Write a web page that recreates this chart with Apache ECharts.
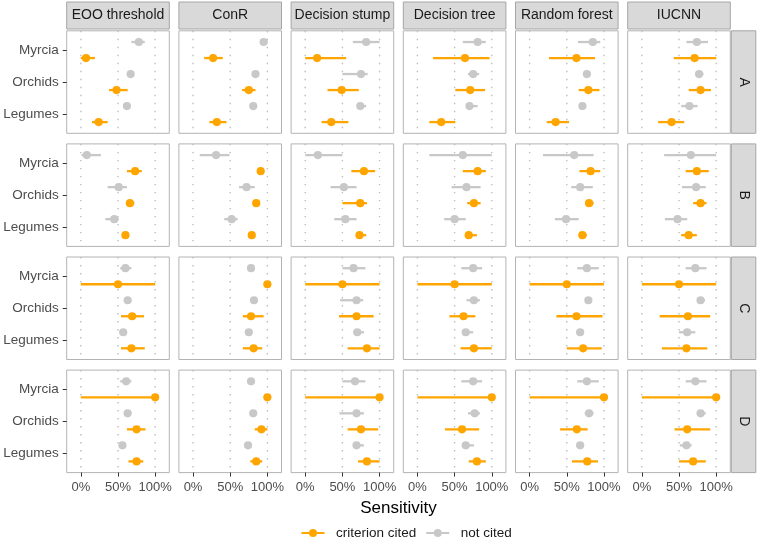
<!DOCTYPE html>
<html>
<head>
<meta charset="utf-8">
<script src="https://cdn.jsdelivr.net/npm/echarts@6/dist/echarts.min.js"></script>
<style>html,body{margin:0;padding:0;background:#fff}#main{width:760px;height:540px}</style>
</head>
<body>
<div id="main"></div>
<script>
// ---------------- data ----------------
const methods = ['EOO threshold', 'ConR', 'Decision stump', 'Decision tree', 'Random forest', 'IUCNN'];
const groups = ['A', 'B', 'C', 'D'];
const taxa = ['Myrcia', 'Orchids', 'Legumes'];
const xTicks = [0, 0.5, 1];
const statuses = ['not cited', 'criterion cited'];

// each: per method, per taxon [estimate, low, high]
const citedA = [
  [[0.07,0.00,0.19],[0.48,0.38,0.63],[0.24,0.15,0.36]],
  [[0.27,0.15,0.40],[0.75,0.66,0.84],[0.32,0.22,0.45]],
  [[0.16,0.00,0.55],[0.49,0.30,0.72],[0.35,0.22,0.58]],
  [[0.64,0.21,0.97],[0.71,0.51,0.91],[0.32,0.16,0.51]],
  [[0.63,0.26,0.88],[0.79,0.66,0.94],[0.35,0.23,0.53]],
  [[0.71,0.43,1.00],[0.79,0.63,0.93],[0.40,0.22,0.57]]
];
const notCitedA = [
  [[0.78,0.68,0.86],[0.67,0.63,0.70],[0.62,0.58,0.65]],
  [[0.95,0.92,1.00],[0.84,0.81,0.87],[0.81,0.78,0.84]],
  [[0.82,0.64,1.00],[0.75,0.50,0.84],[0.74,0.70,0.82]],
  [[0.81,0.61,0.92],[0.75,0.68,0.83],[0.70,0.66,0.81]],
  [[0.85,0.65,0.95],[0.77,0.72,0.82],[0.71,0.67,0.76]],
  [[0.74,0.60,0.89],[0.77,0.72,0.83],[0.64,0.53,0.75]]
];
const citedB = [
  [[0.73,0.62,0.82],[0.66,0.63,0.72],[0.60,0.57,0.63]],
  [[0.91,0.89,0.93],[0.85,0.83,0.87],[0.79,0.77,0.81]],
  [[0.79,0.62,0.94],[0.74,0.50,0.83],[0.73,0.69,0.82]],
  [[0.81,0.61,0.92],[0.76,0.67,0.85],[0.69,0.64,0.80]],
  [[0.82,0.67,0.95],[0.80,0.75,0.86],[0.71,0.66,0.77]],
  [[0.74,0.59,0.90],[0.79,0.69,0.87],[0.63,0.53,0.74]]
];
const notCitedB = [
  [[0.08,0.01,0.27],[0.51,0.36,0.62],[0.45,0.33,0.51]],
  [[0.31,0.09,0.49],[0.72,0.62,0.83],[0.52,0.42,0.60]],
  [[0.17,0.00,0.50],[0.52,0.34,0.69],[0.54,0.39,0.69]],
  [[0.61,0.16,1.00],[0.66,0.46,0.85],[0.50,0.36,0.65]],
  [[0.60,0.18,0.86],[0.68,0.56,0.85],[0.49,0.34,0.66]],
  [[0.66,0.30,1.00],[0.73,0.54,0.86],[0.48,0.31,0.61]]
];
const citedC = [
  [[0.50,0.00,1.00],[0.69,0.54,0.85],[0.68,0.54,0.86]],
  [[1.00,1.00,1.00],[0.78,0.67,0.95],[0.815,0.67,0.93]],
  [[0.50,0.00,1.00],[0.69,0.455,0.92],[0.83,0.57,1.00]],
  [[0.50,0.00,1.00],[0.62,0.43,0.78],[0.76,0.58,1.00]],
  [[0.50,0.00,1.00],[0.63,0.36,0.98],[0.72,0.50,0.97]],
  [[0.50,0.00,1.00],[0.62,0.24,0.92],[0.60,0.27,0.88]]
];
const notCitedC = [
  [[0.60,0.53,0.68],[0.63,0.60,0.66],[0.57,0.54,0.60]],
  [[0.78,0.74,0.83],[0.82,0.79,0.85],[0.75,0.72,0.78]],
  [[0.65,0.50,0.81],[0.69,0.47,0.78],[0.70,0.65,0.79]],
  [[0.75,0.59,0.87],[0.76,0.66,0.84],[0.65,0.61,0.75]],
  [[0.77,0.64,0.93],[0.79,0.75,0.83],[0.68,0.63,0.73]],
  [[0.72,0.59,0.87],[0.79,0.74,0.85],[0.61,0.50,0.72]]
];
const citedD = [
  [[1.00,0.00,1.00],[0.75,0.62,0.87],[0.75,0.64,0.84]],
  [[1.00,1.00,1.00],[0.92,0.83,1.00],[0.85,0.77,0.93]],
  [[1.00,0.00,1.00],[0.75,0.57,0.98],[0.83,0.71,1.00]],
  [[1.00,0.00,1.00],[0.60,0.37,0.83],[0.80,0.69,0.92]],
  [[1.00,0.00,1.00],[0.635,0.41,0.78],[0.775,0.57,0.92]],
  [[1.00,0.00,1.00],[0.61,0.44,0.92],[0.69,0.50,0.86]]
];
const notCitedD = [
  [[0.61,0.53,0.68],[0.63,0.60,0.66],[0.56,0.53,0.59]],
  [[0.78,0.73,0.83],[0.81,0.78,0.84],[0.74,0.71,0.77]],
  [[0.67,0.50,0.81],[0.69,0.46,0.79],[0.69,0.65,0.79]],
  [[0.75,0.59,0.87],[0.77,0.68,0.84],[0.65,0.60,0.76]],
  [[0.77,0.64,0.93],[0.80,0.74,0.86],[0.68,0.63,0.73]],
  [[0.72,0.59,0.87],[0.79,0.74,0.86],[0.60,0.51,0.67]]
];

// ---------------- layout / style ----------------
const cited = [citedA, citedB, citedC, citedD];
const notCited = [notCitedA, notCitedB, notCitedC, notCitedD];
const COLORS = { 'criterion cited': '#FFA500', 'not cited': '#C8C8C8' };
const PANEL_L0 = 66.7, PANEL_DX = 112.2, PANEL_W = 102.6;
const PANEL_T0 = 30.8, PANEL_DY = 113.1, PANEL_H = 102.5;
const XMIN = -0.19, XMAX = 1.19, YMIN = 0.4, YMAX = 3.6, DODGE = 0.25;
const FONT = '"Liberation Sans", Arial, sans-serif';

const chart = echarts.init(document.getElementById('main'), null, { renderer: 'canvas' });

const grids = [], xAxes = [], yAxes = [], series = [], graphics = [];

function rangeRenderer(color) {
  return function (params, api) {
    const y = api.value(3);
    const p0 = api.coord([api.value(1), y]);
    const p1 = api.coord([api.value(2), y]);
    const pc = api.coord([api.value(0), y]);
    return {
      type: 'group',
      children: [
        { type: 'line', shape: { x1: p0[0], y1: p0[1], x2: p1[0], y2: p1[1] },
          style: { stroke: color, lineWidth: 2.3 } },
        { type: 'circle', shape: { cx: pc[0], cy: pc[1], r: 4.1 }, style: { fill: color } }
      ]
    };
  };
}

function gridLineRenderer(params, api) {
  const v = api.value(0);
  const a = api.coord([v, YMIN]);
  const b = api.coord([v, YMAX]);
  return { type: 'line', shape: { x1: a[0], y1: a[1], x2: b[0], y2: b[1] },
    style: { stroke: '#bdbdbd', lineWidth: 1.4, lineDash: [1.4, 6.6] } };
}

groups.forEach((g, r) => {
  methods.forEach((m, c) => {
    const idx = r * methods.length + c;
    const left = PANEL_L0 + c * PANEL_DX;
    const top = PANEL_T0 + r * PANEL_DY;
    grids.push({ left: left, top: top, width: PANEL_W, height: PANEL_H, show: true,
      borderColor: '#b3b3b3', borderWidth: 1, backgroundColor: '#ffffff' });
    xAxes.push({
      type: 'value', gridIndex: idx, min: XMIN, max: XMAX, position: 'bottom',
      splitLine: { show: false }, axisLine: { show: false, onZero: false },
      axisTick: { show: r === groups.length - 1, customValues: xTicks, length: 4,
        lineStyle: { color: '#333333', width: 1 } },
      axisLabel: { show: r === groups.length - 1, customValues: xTicks, margin: 8,
        formatter: v => Math.round(v * 100) + '%', color: '#4d4d4d', fontSize: 13, fontFamily: FONT }
    });
    yAxes.push({
      type: 'value', gridIndex: idx, min: YMIN, max: YMAX, inverse: true, position: 'left',
      splitLine: { show: false }, axisLine: { show: false, onZero: false },
      axisTick: { show: c === 0, customValues: [1, 2, 3], length: 4,
        lineStyle: { color: '#333333', width: 1 } },
      axisLabel: { show: c === 0, customValues: [1, 2, 3], margin: 8,
        formatter: v => taxa[Math.round(v) - 1], color: '#4d4d4d', fontSize: 13.5, fontFamily: FONT }
    });
    // dotted vertical gridlines
    series.push({
      type: 'custom', xAxisIndex: idx, yAxisIndex: idx, silent: true, z: 1,
      data: xTicks.map(v => [v]), encode: { x: 0 }, renderItem: gridLineRenderer
    });
    // not cited (grey, upper) and criterion cited (orange, lower)
    statuses.forEach(st => {
      const src = st === 'criterion cited' ? cited[r][c] : notCited[r][c];
      const off = st === 'criterion cited' ? DODGE : -DODGE;
      series.push({
        type: 'custom', name: st, xAxisIndex: idx, yAxisIndex: idx, z: 3,
        itemStyle: { color: COLORS[st] },
        data: src.map((d, i) => [d[0], d[1], d[2], i + 1 + off]),
        encode: { x: [0, 1, 2], y: 3 },
        renderItem: rangeRenderer(COLORS[st])
      });
    });
  });
});

// facet strips
methods.forEach((m, c) => {
  const left = PANEL_L0 + c * PANEL_DX;
  graphics.push({ type: 'rect', shape: { x: left, y: 2, width: PANEL_W, height: 27 },
    style: { fill: '#d9d9d9', stroke: '#a6a6a6', lineWidth: 1 }, silent: true });
  graphics.push({ type: 'text', x: left + PANEL_W / 2, y: 15.5,
    style: { text: m, fill: '#1a1a1a', font: '14px ' + FONT, align: 'center', verticalAlign: 'middle' }, silent: true });
});
groups.forEach((g, r) => {
  const top = PANEL_T0 + r * PANEL_DY;
  const x = PANEL_L0 + 5 * PANEL_DX + PANEL_W + 1;
  graphics.push({ type: 'rect', shape: { x: x, y: top, width: 24.5, height: PANEL_H },
    style: { fill: '#d9d9d9', stroke: '#a6a6a6', lineWidth: 1 }, silent: true });
  graphics.push({ type: 'text', x: x + 12.25, y: top + PANEL_H / 2, rotation: -Math.PI / 2,
    style: { text: g, fill: '#1a1a1a', font: '14px ' + FONT, align: 'center', verticalAlign: 'middle' }, silent: true });
});
// axis title
graphics.push({ type: 'text', x: PANEL_L0 + (5 * PANEL_DX + PANEL_W) / 2, y: 508.5,
  style: { text: 'Sensitivity', fill: '#000000', font: '17px ' + FONT, align: 'center', verticalAlign: 'middle' }, silent: true });

const legendIcon = 'path://M0,3.1 L23,3.1 L23,4.9 L0,4.9 Z M15.5,4 A4,4 0 1,1 7.5,4 A4,4 0 1,1 15.5,4 Z M29.5,0 L29.5,8 L29.5,0 Z';

chart.setOption({
  animation: false,
  backgroundColor: '#ffffff',
  grid: grids,
  xAxis: xAxes,
  yAxis: yAxes,
  series: series,
  legend: {
    data: [{ name: 'criterion cited' }, { name: 'not cited' }],
    icon: legendIcon, itemWidth: 29.5, itemHeight: 8, itemGap: 10,
    left: 296.5, top: 521, selectedMode: false,
    textStyle: { color: '#1a1a1a', fontSize: 13.5, fontFamily: FONT }
  },
  graphic: graphics
});
</script>
</body>
</html>
